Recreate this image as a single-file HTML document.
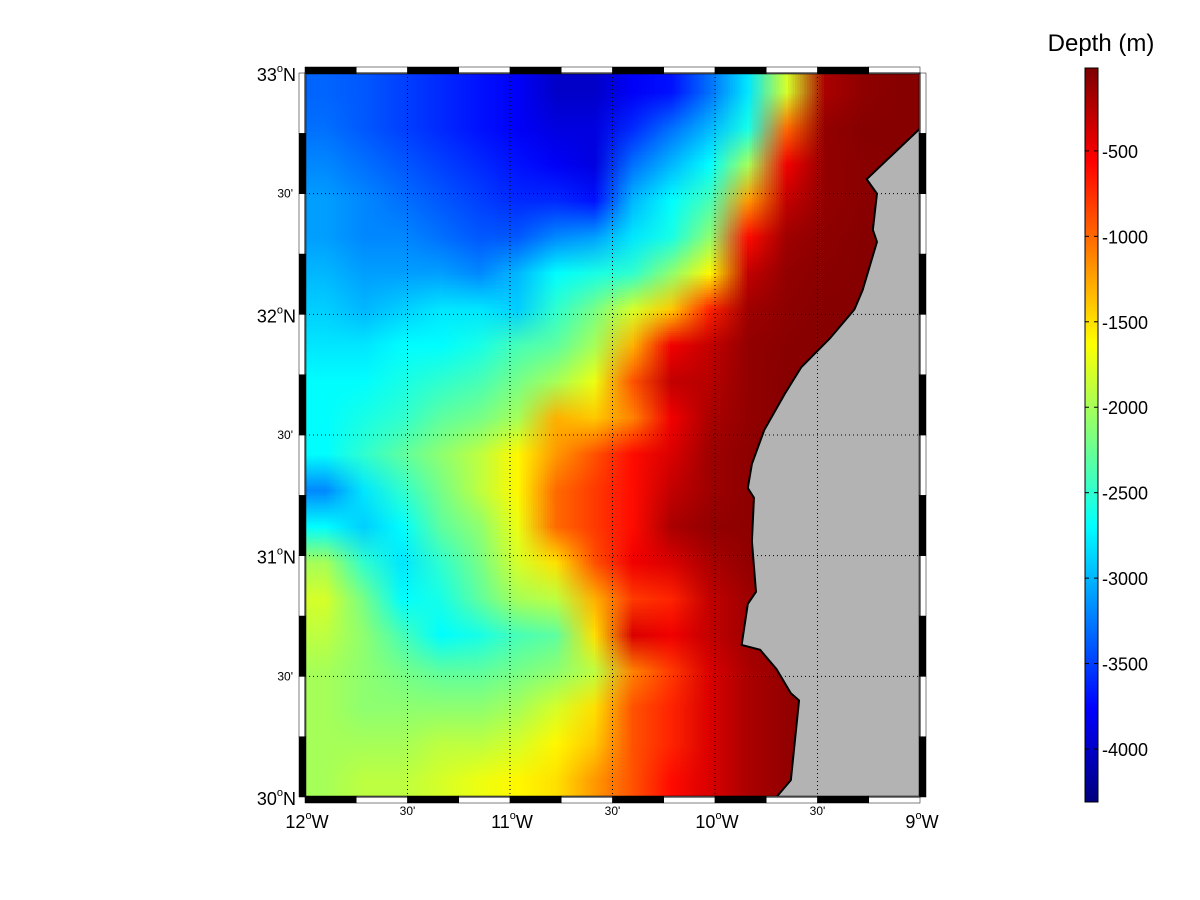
<!DOCTYPE html>
<html><head><meta charset="utf-8"><style>
body{margin:0;background:#fff;width:1200px;height:900px;overflow:hidden;font-family:"Liberation Sans",sans-serif;position:relative}
#map{position:absolute;left:305px;top:73px;width:615px;height:724px}
svg{position:absolute;left:0;top:0}
</style></head><body>
<canvas id="map" width="16" height="20"></canvas>
<canvas id="cb" width="1" height="256" style="position:absolute;left:1085px;top:68px;width:13px;height:734px"></canvas>
<svg id="s" width="1200" height="900"></svg>
<script>
const lonTicks=[-12,-11,-10,-9];
const latTicks=[30,31,32,33];
const cbTicks=[-500,-1000,-1500,-2000,-2500,-3000,-3500,-4000];
const depthMin=-4310, depthMax=-15;
const row0=[-3350,-3400,-3500,-3600,-3700,-3800,-4000,-4000,-3800,-3700,-3300,-2800,-1800,-200,-80,-50];
const row1=[-3300,-3400,-3500,-3600,-3700,-3800,-3900,-3900,-3600,-3300,-3000,-2600,-1000,-100,-50,-50];
const row2=[-3200,-3300,-3400,-3500,-3600,-3700,-3800,-3900,-3300,-3000,-2700,-2000,-500,-100,-60,-50];
const row3=[-3100,-3200,-3300,-3400,-3500,-3600,-3600,-3700,-3000,-2700,-2400,-1200,-300,-100,-60,-50];
const row4=[-3100,-3200,-3200,-3300,-3400,-3400,-3200,-3100,-2800,-2600,-2100,-600,-150,-80,-50,-50];
const row5=[-3000,-3100,-3100,-3100,-3200,-3000,-2700,-2600,-2500,-2100,-1600,-300,-100,-60,-50,-50];
const row6=[-2900,-3000,-2900,-2800,-2800,-2900,-2500,-2200,-1800,-1400,-700,-150,-80,-50,-50,-50];
const row7=[-2800,-2800,-2700,-2700,-2600,-2400,-2300,-2000,-1300,-500,-300,-100,-60,-50,-50,-50];
const row8=[-2700,-2700,-2600,-2500,-2400,-2200,-2000,-1700,-900,-300,-250,-100,-50,-50,-50,-50];
const row9=[-2700,-2600,-2500,-2300,-2200,-2000,-1300,-1400,-1100,-500,-200,-100,-50,-50,-50,-50];
const row10=[-2700,-2500,-2300,-2100,-1900,-1600,-1200,-900,-600,-400,-150,-80,-50,-50,-50,-50];
const row11=[-3200,-2800,-2500,-2200,-1900,-1600,-1000,-800,-600,-300,-150,-80,-50,-50,-50,-50];
const row12=[-2700,-2900,-2700,-2300,-2100,-1700,-1000,-800,-600,-200,-100,-80,-50,-50,-50,-50];
const row13=[-2000,-2500,-2800,-2500,-2200,-1800,-1500,-900,-500,-400,-200,-100,-50,-50,-50,-50];
const row14=[-1800,-2200,-2700,-2600,-2300,-2000,-1900,-1300,-800,-700,-300,-150,-50,-50,-50,-50];
const row15=[-1900,-2100,-2400,-2700,-2600,-2400,-2300,-1500,-400,-500,-300,-150,-50,-50,-50,-50];
const row16=[-2000,-2100,-2200,-2300,-2300,-2200,-2100,-1900,-1100,-800,-400,-200,-100,-50,-50,-50];
const row17=[-2000,-2100,-2100,-2100,-2100,-2000,-1800,-1500,-900,-700,-400,-200,-100,-50,-50,-50];
const row18=[-2000,-2000,-2000,-1900,-1900,-1800,-1600,-1400,-900,-700,-400,-200,-100,-50,-50,-50];
const row19=[-2000,-1900,-1900,-1800,-1700,-1600,-1500,-1200,-900,-600,-400,-200,-100,-50,-50,-50];
const grid=[row0,row1,row2,row3,row4,row5,row6,row7,row8,row9,row10,row11,row12,row13,row14,row15,row16,row17,row18,row19];
const coastLon=[-9,-9.26,-9.21,-9.23,-9.21,-9.28,-9.32,-9.44,-9.58,-9.66,-9.76,-9.82,-9.84,-9.81,-9.82,-9.80,-9.84,-9.87,-9.78,-9.70,-9.63,-9.59,-9.63,-9.70,-9.73,-9];
const coastLat=[32.77,32.56,32.5,32.35,32.3,32.1,32.02,31.9,31.78,31.67,31.52,31.38,31.28,31.24,31.06,30.85,30.8,30.63,30.61,30.53,30.43,30.4,30.07,30.0,30,30];
function jet(t){t=Math.max(0,Math.min(1,t));const r=Math.max(0,Math.min(1,1.5-Math.abs(4*t-3))),g=Math.max(0,Math.min(1,1.5-Math.abs(4*t-2))),b=Math.max(0,Math.min(1,1.5-Math.abs(4*t-1)));return `rgb(${r*255|0},${g*255|0},${b*255|0})`}
const X=lon=>305+(lon+12)*205, Y=lat=>797-(lat-30)*241.33;
const c=document.getElementById('map').getContext('2d');
grid.forEach((row,j)=>row.forEach((d,i)=>{c.fillStyle=jet((d-depthMin)/(depthMax-depthMin));c.fillRect(i,j,1,1);}));
const cb=document.getElementById('cb').getContext('2d');
for(let k=0;k<256;k++){cb.fillStyle=jet(1-k/255);cb.fillRect(0,k,1,1);}
const s=document.getElementById('s');const NS='http://www.w3.org/2000/svg';
function el(t,a,txt){const e=document.createElementNS(NS,t);for(const k in a)e.setAttribute(k,a[k]);if(txt!=null)e.textContent=txt;s.appendChild(e);return e;}
let pts=coastLon.map((l,i)=>X(l)+','+Y(coastLat[i])).join(' ');
let land=el('polygon',{points:pts,fill:'#b3b3b3',stroke:'none'});


let coast=el('polyline',{points:coastLon.slice(0,24).map((l,i)=>X(l)+','+Y(coastLat[i])).join(' '),fill:'none',stroke:'#000','stroke-width':2});


for(let k=1;k<6;k++){const x=X(-12+k*0.5),y=Y(30+k*0.5);
 let v=el('line',{x1:x,y1:73,x2:x,y2:797,stroke:'#000','stroke-dasharray':'1,3','stroke-width':1});
 
 let h=el('line',{x1:305,y1:y,x2:920,y2:y,stroke:'#000','stroke-dasharray':'1,3','stroke-width':1});
 }
for(let k=0;k<12;k++){const x0=X(-12+k*0.25),x1=X(-12+(k+1)*0.25);const f=k%2?'#fff':'#000';
 let a=el('rect',{x:x0,y:67,width:x1-x0,height:7,fill:f,stroke:'#000','stroke-width':0.5});
 let b=el('rect',{x:x0,y:796,width:x1-x0,height:7,fill:f,stroke:'#000','stroke-width':0.5});
 const y0=Y(30+(k+1)*0.25),y1=Y(30+k*0.25);
 let l=el('rect',{x:299,y:y0,width:7,height:y1-y0,fill:f,stroke:'#000','stroke-width':0.5});
 let r=el('rect',{x:919,y:y0,width:7,height:y1-y0,fill:f,stroke:'#000','stroke-width':0.5});}
let fr=el('rect',{x:305,y:73,width:615,height:724,fill:'none',stroke:'#000','stroke-width':1});
latTicks.forEach(v=>{const t=el('text',{x:296,y:Y(v)+8,'text-anchor':'end','font-size':18});t.innerHTML=`${v}<tspan font-size="11" dy="-9">o</tspan><tspan dy="9">N</tspan>`;});
lonTicks.forEach(v=>{const t=el('text',{x:X(v)+2,y:828,'text-anchor':'middle','font-size':18});t.innerHTML=`${-v}<tspan font-size="11" dy="-9">o</tspan><tspan dy="9">W</tspan>`;});
[30.5,31.5,32.5].forEach(v=>{const t=el('text',{x:293,y:Y(v)+4,'text-anchor':'end','font-size':12},"30'");});
[-11.5,-10.5,-9.5].forEach(v=>{const t=el('text',{x:X(v),y:815,'text-anchor':'middle','font-size':12},"30'");});
const cbY=v=>68+(depthMax-v)/(depthMax-depthMin)*734;
let cbb=el('rect',{x:1085,y:68,width:13,height:734,fill:'none',stroke:'#000','stroke-width':1});
cbTicks.forEach(v=>{const y=cbY(v);el('line',{x1:1085,y1:y,x2:1089,y2:y,stroke:'#000'});el('line',{x1:1094,y1:y,x2:1098,y2:y,stroke:'#000'});
 const t=el('text',{x:1102,y:y+7,'font-size':18},String(v));});
let tt=el('text',{x:1101,y:51,'text-anchor':'middle','font-size':24},'Depth (m)');
</script>
</body></html>
